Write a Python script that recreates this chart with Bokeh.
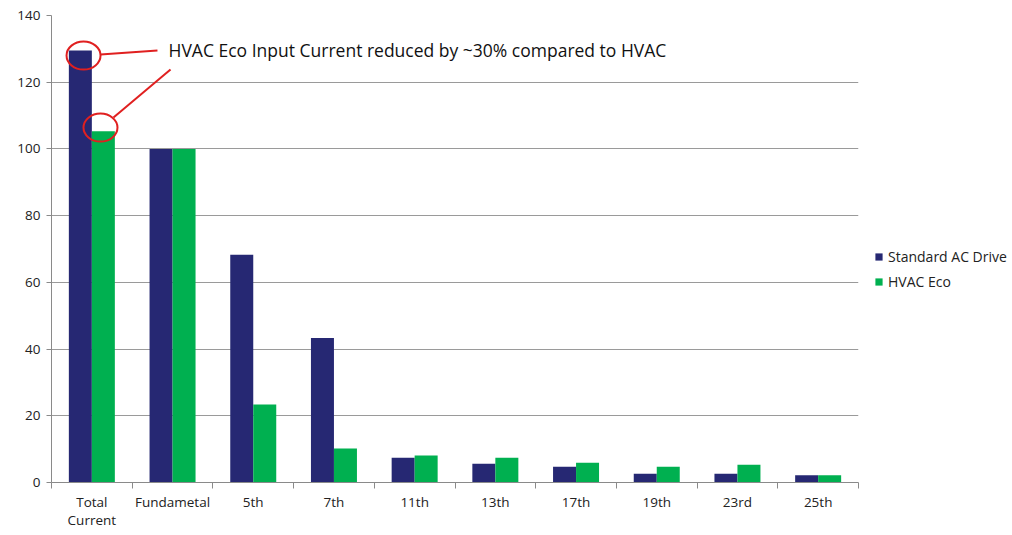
from bokeh.plotting import figure
from bokeh.models import FixedTicker, Legend, LegendItem, ColumnDataSource, Range1d
from bokeh.core.properties import value
from bokeh.embed import file_html
from bokeh.resources import INLINE
import numpy as np

categories = ["Total\nCurrent", "Fundametal", "5th", "7th", "11th", "13th", "17th", "19th", "23rd", "25th"]
standard_ac = [129.5, 100, 68.3, 43.3, 7.4, 5.6, 4.7, 2.6, 2.6, 2.2]
hvac_eco = [105.3, 100, 23.4, 10.2, 8.1, 7.4, 5.9, 4.7, 5.3, 2.2]
series_names = ["Standard AC Drive", "HVAC Eco"]
y_ticks = [0, 20, 40, 60, 80, 100, 120, 140]
annotation = "HVAC Eco Input Current reduced by ~30% compared to HVAC"

NAVY = "#262873"
GREEN = "#00B050"
FONT = "Open Sans"

n = len(categories)
centers = np.arange(n) + 0.5
bw = 0.285

p = figure(frame_width=807, frame_height=467, output_backend="svg", toolbar_location=None,
           x_range=Range1d(0, n), y_range=Range1d(0, 140),
           min_border_left=51, min_border_right=0, min_border_top=15, min_border_bottom=53)
p.outline_line_color = None
p.background_fill_color = "white"
p.border_fill_color = "white"

src = ColumnDataSource(dict(xs=centers - bw / 2, xe=centers + bw / 2, s=standard_ac, e=hvac_eco))
r1 = p.vbar(x="xs", top="s", width=bw, source=src, fill_color=NAVY, line_color=None)
r2 = p.vbar(x="xe", top="e", width=bw, source=src, fill_color=GREEN, line_color=None)

# axes
xa = p.xaxis[0]
xa.ticker = FixedTicker(ticks=list(centers), minor_ticks=list(range(n + 1)))
xa.major_label_overrides = {float(c): lab for c, lab in zip(centers, categories)}
xa.major_tick_out = 0
xa.major_tick_in = 0
xa.minor_tick_out = 6
xa.minor_tick_in = 0
xa.minor_tick_line_color = "#8a8a8a"
xa.axis_line_color = "#8a8a8a"
xa.major_label_standoff = 4
xa.major_label_text_font = FONT
xa.major_label_text_font_size = "13.5px"
xa.major_label_text_color = "#222222"
xa.major_label_text_line_height = 1.0

ya = p.yaxis[0]
ya.ticker = FixedTicker(ticks=y_ticks)
ya.minor_tick_line_color = None
ya.major_tick_out = 5
ya.major_tick_in = 0
ya.major_tick_line_color = "#8a8a8a"
ya.axis_line_color = "#8a8a8a"
ya.major_label_standoff = 6
ya.major_label_text_font = FONT
ya.major_label_text_font_size = "13.5px"
ya.major_label_text_color = "#222222"

p.xgrid.grid_line_color = None
p.ygrid.grid_line_color = "#9a9a9a"
p.ygrid.grid_line_width = 1

# annotation
p.ellipse(x=[0.397, 0.607], y=[128.0, 106.4], width=34, height=28, width_units="screen",
          height_units="screen", fill_color=None, line_color="#E02020", line_width=2)
p.segment(x0=[0.607, 0.768], y0=[128.3, 109.4], x1=[1.313, 1.475], y1=[129.5, 123.8],
          line_color="#E02020", line_width=2)
p.text(x=[1.45], y=[129.6], text=[annotation], text_font=value(FONT), text_font_size="17.5px",
       text_baseline="middle", text_color="#111111")

legend = Legend(items=[LegendItem(label=series_names[0], renderers=[r1]),
                       LegendItem(label=series_names[1], renderers=[r2])],
                location=(16, 191), orientation="vertical")
legend.glyph_width = 9
legend.glyph_height = 9
legend.label_text_font = FONT
legend.label_text_font_size = "14px"
legend.label_text_color = "#222222"
legend.border_line_color = None
legend.background_fill_alpha = 0
legend.spacing = 6
legend.label_standoff = 5
legend.padding = 0
legend.margin = 18
p.add_layout(legend, "right")

open("out.html", "w").write(file_html(p, INLINE))
